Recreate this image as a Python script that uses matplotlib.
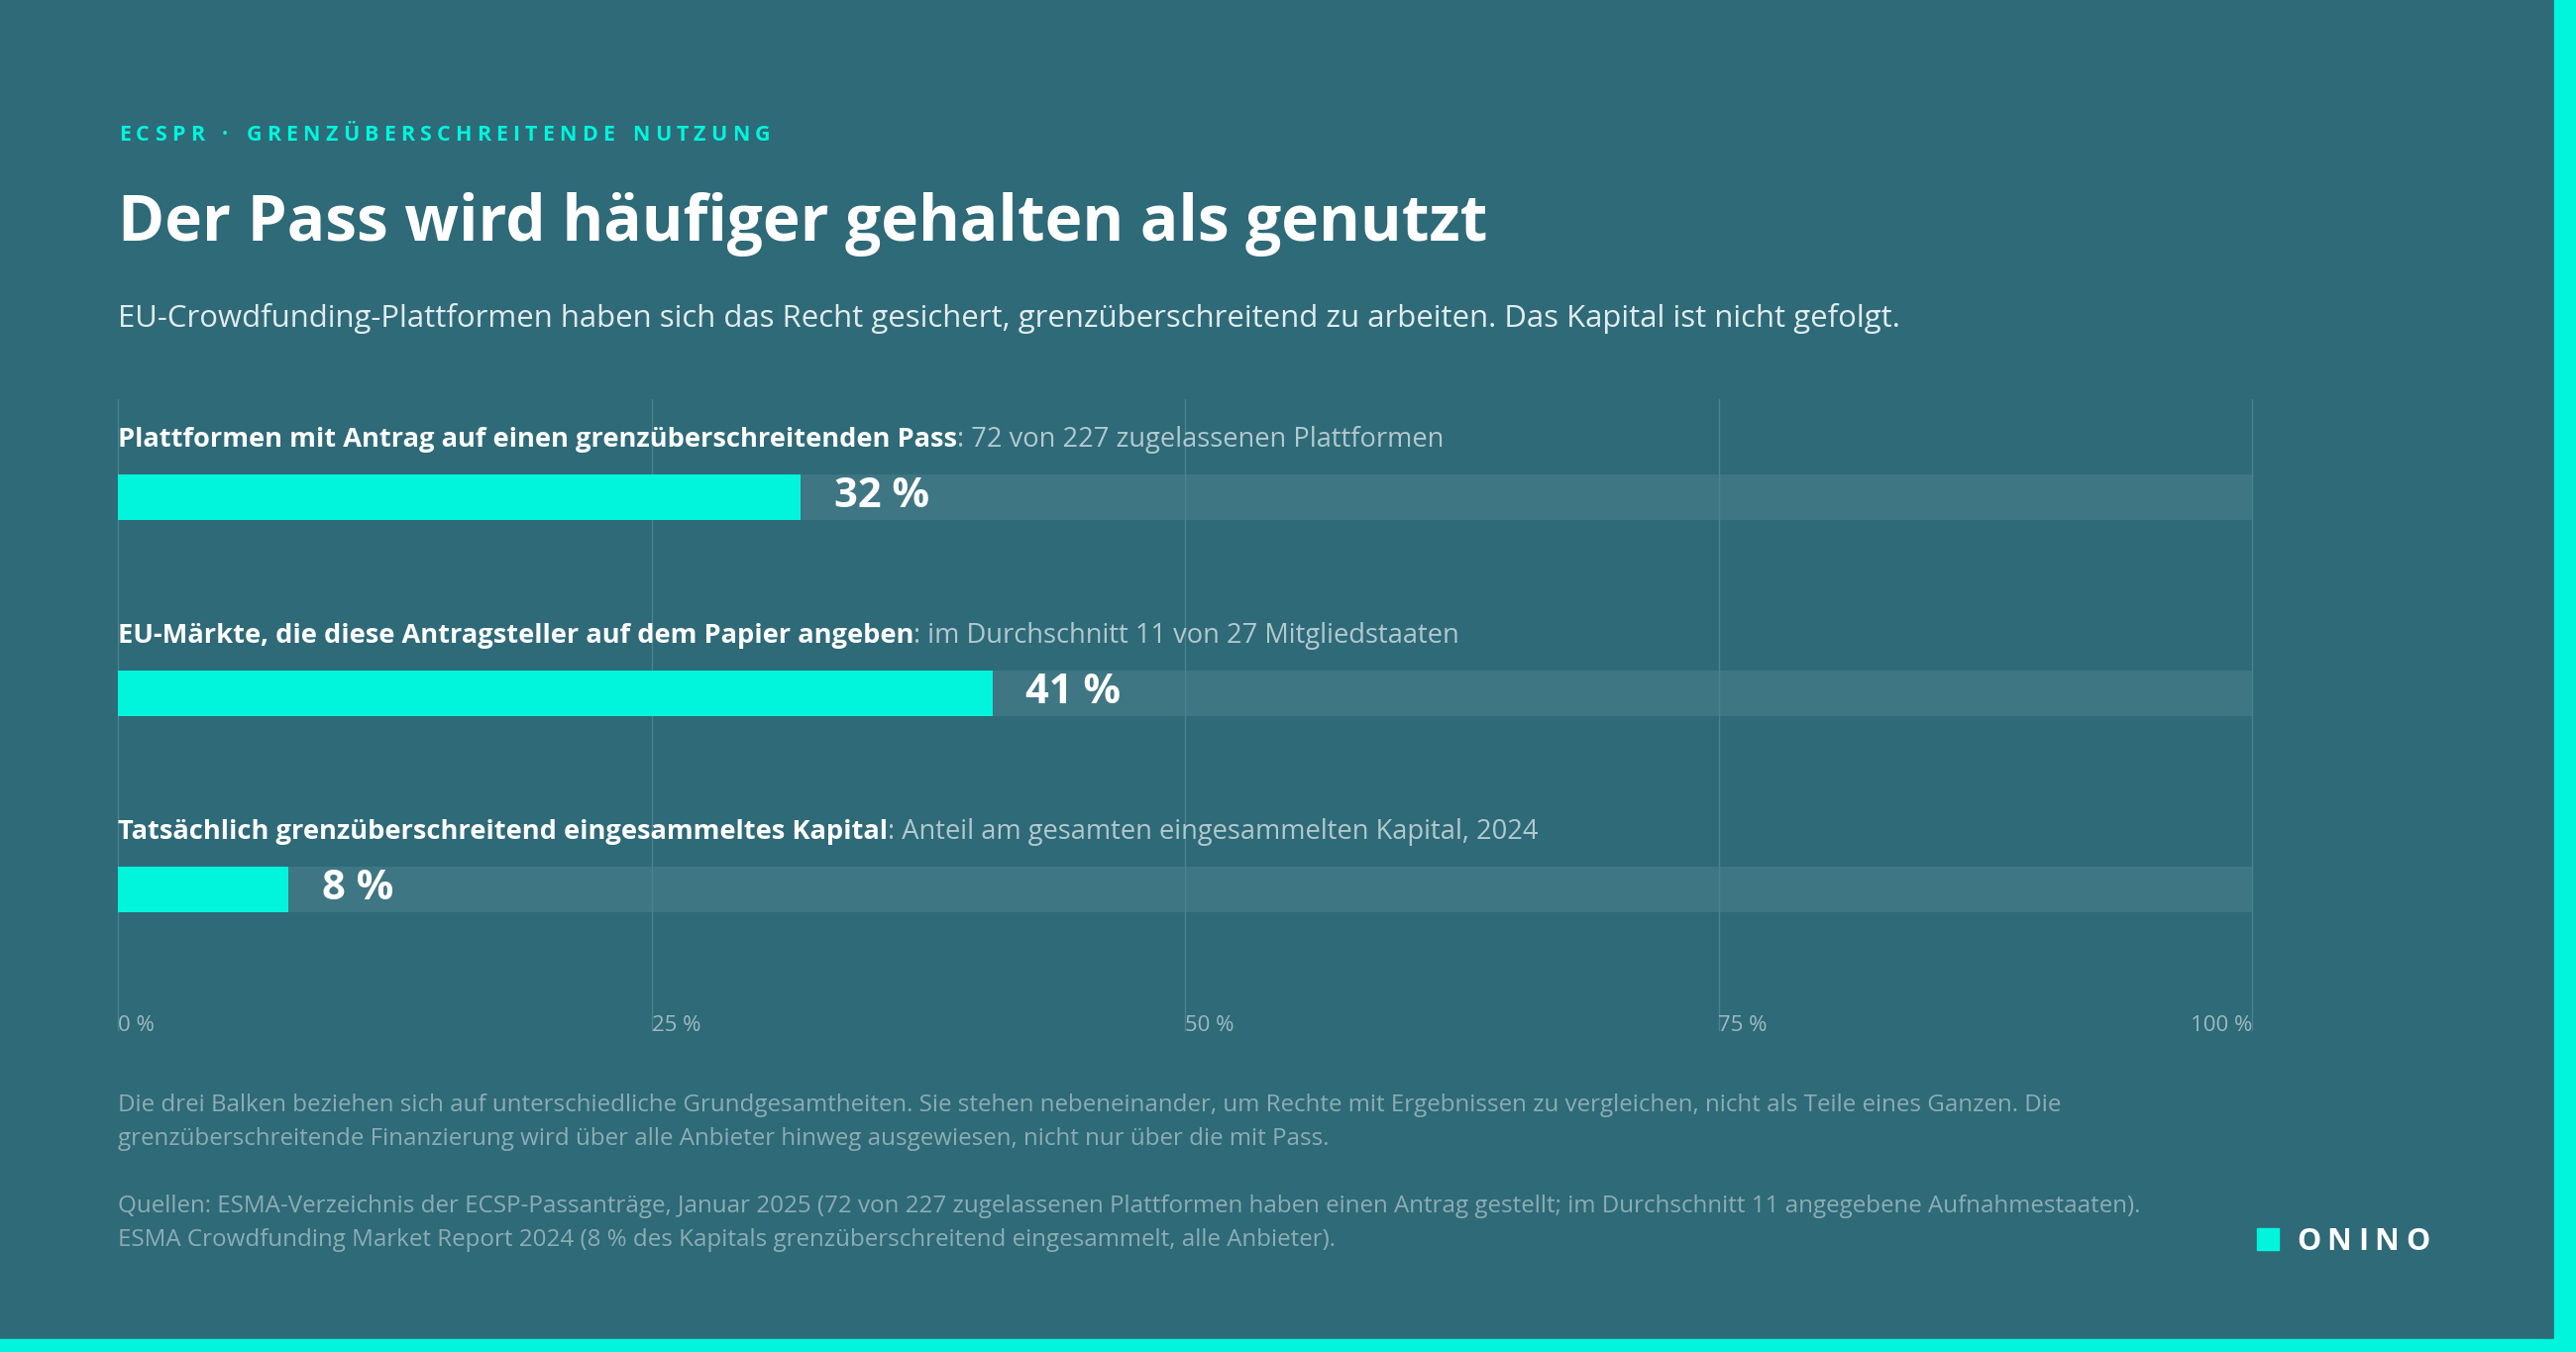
import matplotlib
matplotlib.use("Agg")
import matplotlib.pyplot as plt
from matplotlib.patches import Rectangle

# ---------------- data ----------------
kicker = "ECSPR · GRENZÜBERSCHREITENDE NUTZUNG"
title = "Der Pass wird häufiger gehalten als genutzt"
subtitle = ("EU-Crowdfunding-Plattformen haben sich das Recht gesichert, "
            "grenzüberschreitend zu arbeiten. Das Kapital ist nicht gefolgt.")
bar_titles = [
    "Plattformen mit Antrag auf einen grenzüberschreitenden Pass",
    "EU-Märkte, die diese Antragsteller auf dem Papier angeben",
    "Tatsächlich grenzüberschreitend eingesammeltes Kapital",
]
bar_details = [
    ": 72 von 227 zugelassenen Plattformen",
    ": im Durchschnitt 11 von 27 Mitgliedstaaten",
    ": Anteil am gesamten eingesammelten Kapital, 2024",
]
values = [32, 41, 8]
ticks = [0, 25, 50, 75, 100]
tick_labels = ["0 %", "25 %", "50 %", "75 %", "100 %"]
note_lines = [
    "Die drei Balken beziehen sich auf unterschiedliche Grundgesamtheiten. Sie stehen nebeneinander, "
    "um Rechte mit Ergebnissen zu vergleichen, nicht als Teile eines Ganzen. Die",
    "grenzüberschreitende Finanzierung wird über alle Anbieter hinweg ausgewiesen, nicht nur über die mit Pass.",
]
source_lines = [
    "Quellen: ESMA-Verzeichnis der ECSP-Passanträge, Januar 2025 (72 von 227 zugelassenen Plattformen "
    "haben einen Antrag gestellt; im Durchschnitt 11 angegebene Aufnahmestaaten).",
    "ESMA Crowdfunding Market Report 2024 (8 % des Kapitals grenzüberschreitend eingesammelt, alle Anbieter).",
]
brand = "ONINO"

# ---------------- style ----------------
BG = "#2E6A78"
TRACK = "#3F7683"
CYAN = "#00F5DC"
WHITE = "#FFFFFF"
SUB = "#E2ECEE"
DETAIL = "#B3C9CE"
TICK = "#9DBAC0"
NOTE = "#8DADB4"
GRID = "#4B8290"
FONT = ["Open Sans", "DejaVu Sans"]

W, H, DPI = 2600, 1365, 100
fig = plt.figure(figsize=(W / DPI, H / DPI), dpi=DPI, facecolor=BG)


def fx(x):
    return x / W


def fy(y):
    return 1 - y / H


renderer = fig.canvas.get_renderer()


def spaced_text(x0, x1, y, s, **kw):
    """Draw text letter by letter, spreading it between x0 and x1 (pixels)."""
    widths = []
    arts = []
    for ch in s:
        t = fig.text(0, 0, ch if ch != " " else "n", **kw)
        w = t.get_window_extent(renderer).width
        if ch == " ":
            w *= 0.55
            t.set_text("")
        widths.append(w)
        arts.append(t)
    gap = (x1 - x0 - sum(widths)) / max(len(s) - 1, 1)
    x = x0
    for t, w in zip(arts, widths):
        t.set_position((fx(x), fy(y)))
        t.set_va("baseline")
        t.set_ha("left")
        x += w + gap


# header
spaced_text(120, 777, 142, kicker, color=CYAN, fontsize=15.5, fontweight="bold", family=FONT)
fig.text(fx(119), fy(243), title, color=WHITE, fontsize=46, fontweight="bold",
         family=FONT, va="baseline", ha="left")
fig.text(fx(119), fy(330), subtitle, color=SUB, fontsize=22.4, family=FONT,
         va="baseline", ha="left")

# ---------------- chart ----------------
ax_left, ax_right, ax_top, ax_bottom = 119, 2273, 403, 997
ax = fig.add_axes([fx(ax_left), fy(ax_bottom), (ax_right - ax_left) / W, (ax_bottom - ax_top) / H])
ax.set_facecolor("none")
ax.set_xlim(0, 100)
n = len(values)
ax.set_ylim(n - 0.5, -0.5)
for s in ax.spines.values():
    s.set_visible(False)
ax.set_xticks([])
ax.set_yticks([])

ypos = list(range(n))
bh = 46 / 198
ax.barh(ypos, [100] * n, height=bh, color=TRACK, zorder=1)
ax.barh(ypos, values, height=bh, color=CYAN, zorder=3)

grid_bottom = -(1040 - ax_bottom) / (ax_bottom - ax_top)
for t in ticks:
    ax.axvline(t, ymin=grid_bottom, ymax=1.0, color=GRID, lw=1, zorder=2, clip_on=False)

for i, (bt, dt, v) in enumerate(zip(bar_titles, bar_details, values)):
    yb = i - 51 / 198
    tb = ax.text(0, yb, bt, color=WHITE, fontsize=19.6, fontweight="bold", family=FONT,
                 va="baseline", ha="left")
    ax.annotate(dt, xy=(1, yb), xycoords=(tb, "data"), color=DETAIL, fontsize=19.6,
                family=FONT, va="baseline", ha="left")
    ax.annotate(f"{v} %", xy=(v, i), xytext=(24, 0), textcoords="offset points",
                color=WHITE, fontsize=30, fontweight="bold", family=FONT,
                va="center", ha="left", zorder=4)

tick_y = -(1041 - ax_bottom) / (ax_bottom - ax_top)
for k, (t, lab) in enumerate(zip(ticks, tick_labels)):
    ax.text(t, tick_y, lab, transform=ax.get_xaxis_transform(), color=TICK,
            fontsize=16, family=FONT, va="baseline",
            ha="right" if k == len(ticks) - 1 else "left")

# ---------------- footnotes ----------------
for j, line in enumerate(note_lines):
    fig.text(fx(119), fy(1122 + 34 * j), line, color=NOTE, fontsize=17.4, family=FONT,
             va="baseline", ha="left")
for j, line in enumerate(source_lines):
    fig.text(fx(119), fy(1224 + 34 * j), line, color=NOTE, fontsize=17.4, family=FONT,
             va="baseline", ha="left")

# brand
fig.patches.append(Rectangle((fx(2278), fy(1262)), 22 / W, 22 / H, transform=fig.transFigure,
                             color=CYAN, zorder=5))
spaced_text(2318, 2452, 1262, brand, color=WHITE, fontsize=22, fontweight="bold", family=FONT)

# accent borders
fig.patches.append(Rectangle((fx(2578), 0), 22 / W, 1, transform=fig.transFigure,
                             color=CYAN, zorder=6))
fig.patches.append(Rectangle((0, 0), 1, 13 / H, transform=fig.transFigure,
                             color=CYAN, zorder=6))

fig.savefig("out.png", dpi=DPI, facecolor=BG)
